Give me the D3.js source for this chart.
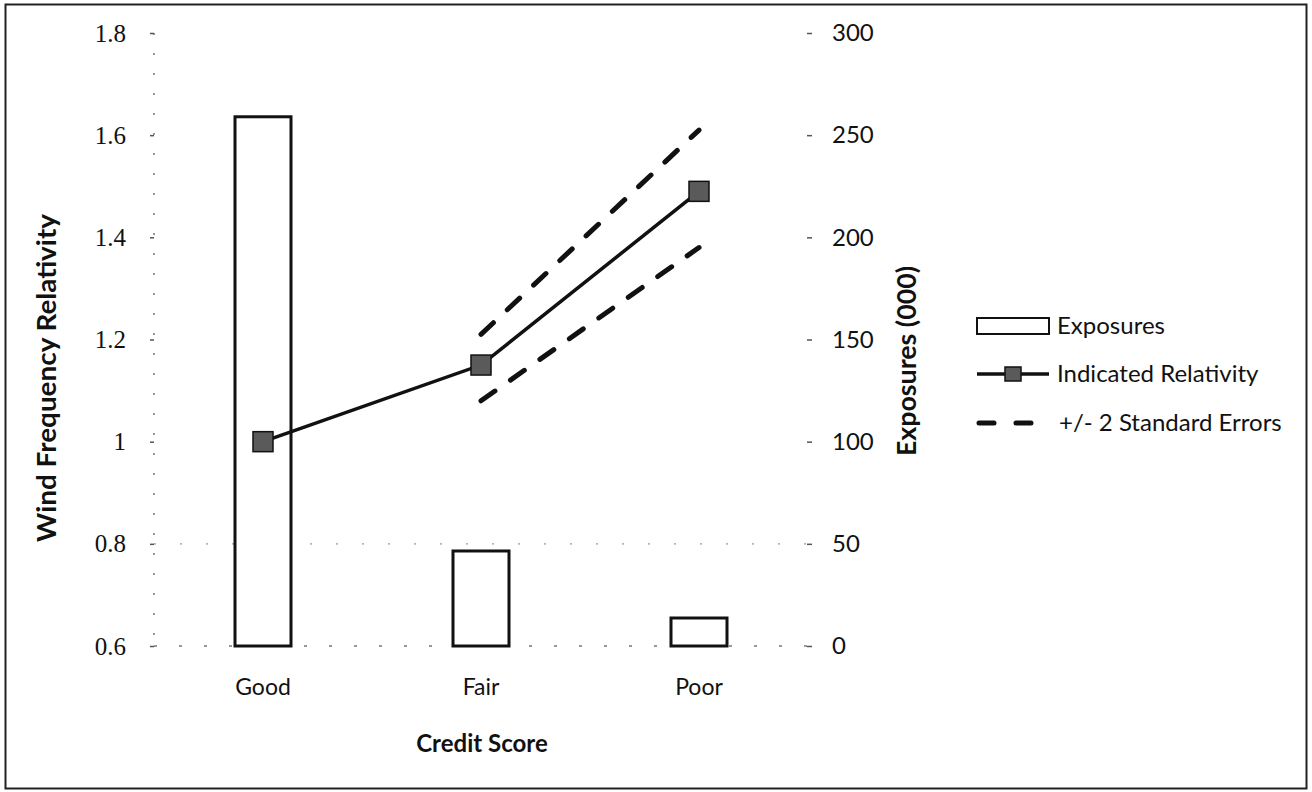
<!DOCTYPE html>
<html>
<head>
<meta charset="utf-8">
<script src="https://cdn.jsdelivr.net/npm/d3@7"></script>
<style>
  html, body { margin: 0; padding: 0; background: #fff; }
  svg { display: block; }
</style>
</head>
<body>
<svg id="chart" width="1312" height="792"></svg>
<script>
// ---- data ----
const categories = ["Good", "Fair", "Poor"];
const exposures = [259, 46.5, 13.7];            // thousands
const indicatedRelativity = [1.0, 1.15, 1.49];
const upperCategories = ["Fair", "Poor"];
const upperBand = [1.21, 1.61];
const lowerBand = [1.08, 1.38];
const leftTicks = [0.6, 0.8, 1.0, 1.2, 1.4, 1.6, 1.8];
const leftTickLabels = ["0.6", "0.8", "1", "1.2", "1.4", "1.6", "1.8"];
const rightTicks = [0, 50, 100, 150, 200, 250, 300];
const legendLabels = ["Exposures", "Indicated Relativity", "+/- 2 Standard Errors"];

// ---- setup ----
const svg = d3.select("#chart");
const sansFont = "Lato, 'Open Sans', sans-serif";
const serifFont = "'Liberation Serif', 'DejaVu Serif', serif";

svg.append("rect").attr("x", 0).attr("y", 0).attr("width", 1312).attr("height", 792).attr("fill", "#fff");
svg.append("rect").attr("x", 5.5).attr("y", 4.5).attr("width", 1301).attr("height", 784)
  .attr("fill", "none").attr("stroke", "#222").attr("stroke-width", 2);

const x = d3.scaleBand().domain(categories).range([154, 808]).padding(0);
const cx = c => x(c) + x.bandwidth() / 2;
const yL = d3.scaleLinear().domain([0.6, 1.8]).range([646, 33]);
const yR = d3.scaleLinear().domain([0, 300]).range([646, 33]);

// faint dotted axis lines / gridline
const g = svg.append("g");
g.append("line").attr("x1", 154).attr("x2", 154).attr("y1", yL(1.8)).attr("y2", yL(0.6))
  .attr("stroke", "#777").attr("stroke-width", 1.5).attr("stroke-dasharray", "2,18");
g.append("line").attr("x1", 154).attr("x2", 808).attr("y1", yL(0.6)).attr("y2", yL(0.6))
  .attr("stroke", "#777").attr("stroke-width", 1.5).attr("stroke-dasharray", "3,22");
g.append("line").attr("x1", 154).attr("x2", 808).attr("y1", yL(0.8)).attr("y2", yL(0.8))
  .attr("stroke", "#999").attr("stroke-width", 1.2).attr("stroke-dasharray", "2,24");

// left axis
const leftAxis = d3.axisLeft(yL).tickValues(leftTicks)
  .tickFormat((d, i) => leftTickLabels[i]).tickSize(4).tickPadding(24);
const gl = svg.append("g").attr("transform", "translate(154,0)").call(leftAxis);
gl.select(".domain").remove();
gl.selectAll(".tick line").attr("stroke", "#555").attr("stroke-width", 1.5);
gl.selectAll(".tick text").attr("font-family", serifFont).attr("font-size", 25).attr("fill", "#111");

// right axis
const rightAxis = d3.axisRight(yR).tickValues(rightTicks).tickSize(5).tickPadding(20);
const gr = svg.append("g").attr("transform", "translate(807,0)").call(rightAxis);
gr.select(".domain").remove();
gr.selectAll(".tick line").attr("stroke", "#555").attr("stroke-width", 1.5);
gr.selectAll(".tick text").attr("font-family", sansFont).attr("font-size", 24).attr("fill", "#111");

// x axis labels
const bottomAxis = d3.axisBottom(x).tickSize(0).tickPadding(33);
const gb = svg.append("g").attr("transform", "translate(0,646)").call(bottomAxis);
gb.select(".domain").remove();
gb.selectAll(".tick text").attr("font-family", sansFont).attr("font-size", 23).attr("fill", "#111");

// bars (exposures, right axis)
const barW = 56;
svg.append("g").selectAll("rect").data(categories).join("rect")
  .attr("x", c => cx(c) - barW / 2)
  .attr("y", (c, i) => yR(exposures[i]))
  .attr("width", barW)
  .attr("height", (c, i) => yR(0) - yR(exposures[i]))
  .attr("fill", "#fff").attr("stroke", "#111").attr("stroke-width", 3);

// dashed band lines
const line = d3.line().x(d => cx(d[0])).y(d => yL(d[1]));
[upperBand, lowerBand].forEach(band => {
  svg.append("path").datum(upperCategories.map((c, i) => [c, band[i]]))
    .attr("d", line).attr("fill", "none").attr("stroke", "#111")
    .attr("stroke-width", 5).attr("stroke-linecap", "round")
    .attr("stroke-dasharray", "17,19");
});

// indicated relativity line + markers
svg.append("path").datum(categories.map((c, i) => [c, indicatedRelativity[i]]))
  .attr("d", line).attr("fill", "none").attr("stroke", "#111").attr("stroke-width", 3.5);
const ms = 20;
svg.append("g").selectAll("rect").data(categories).join("rect")
  .attr("x", c => cx(c) - ms / 2)
  .attr("y", (c, i) => yL(indicatedRelativity[i]) - ms / 2)
  .attr("width", ms).attr("height", ms)
  .attr("fill", "#5a5a5a").attr("stroke", "#111").attr("stroke-width", 1.5);

// axis titles
svg.append("text").attr("transform", "translate(56,378) rotate(-90)")
  .attr("text-anchor", "middle").attr("font-family", sansFont).attr("font-weight", "bold")
  .attr("font-size", 26).attr("fill", "#111")
  .attr("textLength", 328).attr("lengthAdjust", "spacingAndGlyphs")
  .text("Wind Frequency Relativity");
svg.append("text").attr("transform", "translate(916,361) rotate(-90)")
  .attr("text-anchor", "middle").attr("font-family", sansFont).attr("font-weight", "bold")
  .attr("font-size", 26).attr("fill", "#111")
  .attr("textLength", 190).attr("lengthAdjust", "spacingAndGlyphs")
  .text("Exposures (000)");
svg.append("text").attr("x", 482).attr("y", 752)
  .attr("text-anchor", "middle").attr("font-family", sansFont).attr("font-weight", "bold")
  .attr("font-size", 24).attr("fill", "#111").text("Credit Score");

// legend
const lg = svg.append("g");
const rowsY = [326, 374, 423];
const lx0 = 977, lx1 = 1049, tx = 1057;
lg.append("rect").attr("x", lx0).attr("y", rowsY[0] - 8).attr("width", lx1 - lx0).attr("height", 16)
  .attr("fill", "#fff").attr("stroke", "#111").attr("stroke-width", 2);
lg.append("line").attr("x1", lx0).attr("x2", lx1).attr("y1", rowsY[1]).attr("y2", rowsY[1])
  .attr("stroke", "#111").attr("stroke-width", 3.5);
lg.append("rect").attr("x", (lx0 + lx1) / 2 - 8).attr("y", rowsY[1] - 7).attr("width", 16).attr("height", 14)
  .attr("fill", "#5a5a5a").attr("stroke", "#111").attr("stroke-width", 1.5);
lg.append("line").attr("x1", lx0 + 2).attr("x2", lx1 - 14).attr("y1", rowsY[2]).attr("y2", rowsY[2])
  .attr("stroke", "#111").attr("stroke-width", 5).attr("stroke-linecap", "round")
  .attr("stroke-dasharray", "15,22");
lg.selectAll("text").data(legendLabels).join("text")
  .attr("x", (d, i) => i === 2 ? tx + 2 : tx)
  .attr("y", (d, i) => rowsY[i])
  .attr("dy", "0.35em")
  .attr("font-family", sansFont).attr("font-size", 24).attr("fill", "#111")
  .text(d => d);
</script>
</body>
</html>
